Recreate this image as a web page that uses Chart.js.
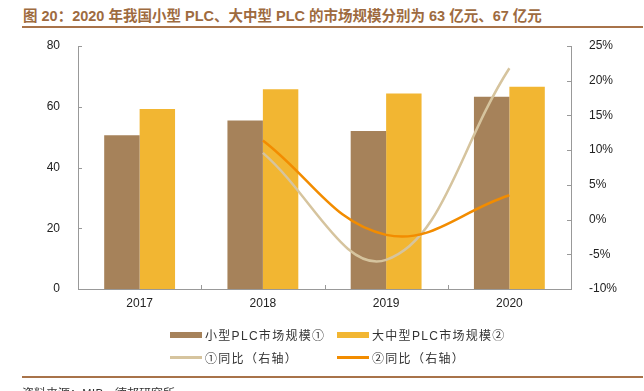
<!DOCTYPE html>
<html>
<head>
<meta charset="utf-8">
<script src="https://cdn.jsdelivr.net/npm/chart.js@4.4.0/dist/chart.umd.min.js"></script>
<style>
  body { margin: 0; background: #fff; }
  #wrap { position: relative; width: 644px; height: 391px; overflow: hidden; font-family: "Liberation Sans", Arial, "Noto Sans CJK SC", sans-serif; }
  #chartBox { position: absolute; left: 0; top: 0; width: 644px; height: 391px; }
  #title { position: absolute; left: 23px; top: 4px; font: bold 14.5px "Liberation Sans", "Noto Sans CJK SC", sans-serif; color: #9E6B3F; white-space: nowrap; }
  #titleLine { position: absolute; left: 22px; right: 1px; top: 26px; height: 2px; background: #A8734A; }
  #footLine { position: absolute; left: 22px; right: 1px; top: 376px; height: 2px; background: #A8734A; }
  #source { position: absolute; left: 22px; top: 384px; font: 12px "Noto Sans CJK SC", sans-serif; color: #333; white-space: nowrap; }
  .legend { position: absolute; display: flex; align-items: center; font: 12px "Liberation Sans", "Noto Sans CJK SC", sans-serif; color: #333; letter-spacing: 1.3px; white-space: nowrap; }
  .legend .sw { width: 32px; margin-right: 3px; }
</style>
</head>
<body>
<div id="wrap">
  <div id="title">图 20：2020 年我国小型 PLC、大中型 PLC 的市场规模分别为 63 亿元、67 亿元</div>
  <div id="titleLine"></div>
  <div id="chartBox"><canvas id="plcChart"></canvas></div>
  <div id="legend"></div>
  <div id="footLine"></div>
  <div id="source">资料来源：MIR，德邦研究所</div>
</div>
<script>
// Data
const years = ['2017', '2018', '2019', '2020'];
const smallPlc = [50.6, 55.5, 52.0, 63.3];
const largePlc = [59.3, 65.8, 64.4, 66.6];
const smallYoY = [null, 9.6, -5.8, 21.8];
const largeYoY = [null, 11.4, -2.2, 3.5];

const seriesNames = ['小型PLC市场规模①', '大中型PLC市场规模②', '①同比（右轴）', '②同比（右轴）'];
const COLORS = ['#A6825A', '#F2B632', '#D6C49E', '#F28C00'];

// Small inward ticks on all three axes
const innerTicks = {
    id: 'innerTicks',
    afterDraw(chart) {
        const ctx = chart.ctx;
        const { x, y, y1 } = chart.scales;
        ctx.save();
        ctx.strokeStyle = '#999';
        ctx.lineWidth = 1;
        ctx.beginPath();
        y.ticks.forEach((t, i) => {
            const py = Math.round(y.getPixelForTick(i)) + 0.5;
            ctx.moveTo(y.right, py); ctx.lineTo(y.right + 4, py);
        });
        y1.ticks.forEach((t, i) => {
            const py = Math.round(y1.getPixelForTick(i)) + 0.5;
            ctx.moveTo(y1.left, py); ctx.lineTo(y1.left - 4, py);
        });
        const n = years.length;
        for (let i = 1; i < n; i++) {
            const px = Math.round(x.left + i * x.width / n) + 0.5;
            ctx.moveTo(px, x.top); ctx.lineTo(px, x.top - 4);
        }
        ctx.stroke();
        ctx.restore();
    }
};

const tickFont = { family: '"Liberation Sans", Arial, sans-serif', size: 12 };

const plcChart = new Chart(document.getElementById('plcChart').getContext('2d'), {
    data: {
        labels: years,
        datasets: [
            { type: 'bar', label: seriesNames[0], data: smallPlc, backgroundColor: COLORS[0], yAxisID: 'y', order: 2 },
            { type: 'bar', label: seriesNames[1], data: largePlc, backgroundColor: COLORS[1], yAxisID: 'y', order: 2 },
            { type: 'line', label: seriesNames[2], data: smallYoY, borderColor: COLORS[2], borderWidth: 2.5, pointRadius: 0, tension: 0.4, yAxisID: 'y1', order: 1 },
            { type: 'line', label: seriesNames[3], data: largeYoY, borderColor: COLORS[3], borderWidth: 2.5, pointRadius: 0, tension: 0.4, yAxisID: 'y1', order: 0 }
        ]
    },
    options: {
        responsive: true,
        maintainAspectRatio: false,
        animation: false,
        layout: { padding: { top: 46, bottom: 72, left: 0, right: 0 } },
        datasets: { bar: { categoryPercentage: 0.575, barPercentage: 1.0 } },
        plugins: { legend: { display: false }, tooltip: { enabled: false } },
        scales: {
            x: {
                grid: { display: false, drawTicks: false },
                border: { color: '#999' },
                ticks: { color: '#222', font: tickFont, padding: 7 },
                afterFit: s => { s.height = 30; }
            },
            y: {
                position: 'left',
                min: 0, max: 80,
                grid: { display: false },
                border: { color: '#999' },
                ticks: { stepSize: 20, color: '#222', font: tickFont, padding: 10 },
                afterFit: s => { s.width = 78; }
            },
            y1: {
                position: 'right',
                min: -10, max: 25,
                grid: { display: false },
                border: { color: '#999' },
                ticks: { stepSize: 5, color: '#222', font: tickFont, padding: 10, callback: v => v + '%' },
                afterFit: s => { s.width = 73; }
            }
        }
    },
    plugins: [innerTicks]
});

// HTML legend, 2 x 2 grid
const legendPos = [[170, 334], [337, 334], [170, 357], [337, 357]];
const legendEl = document.getElementById('legend');
plcChart.data.datasets.forEach((ds, i) => {
    const item = document.createElement('div');
    item.className = 'legend';
    item.style.left = legendPos[i][0] + 'px';
    item.style.top = (legendPos[i][1] - 8) + 'px';
    const sw = document.createElement('span');
    sw.className = 'sw';
    sw.style.height = ds.type === 'bar' ? '6px' : '2.5px';
    sw.style.background = COLORS[i];
    item.appendChild(sw);
    item.appendChild(document.createTextNode(ds.label));
    legendEl.appendChild(item);
});
</script>
</body>
</html>
